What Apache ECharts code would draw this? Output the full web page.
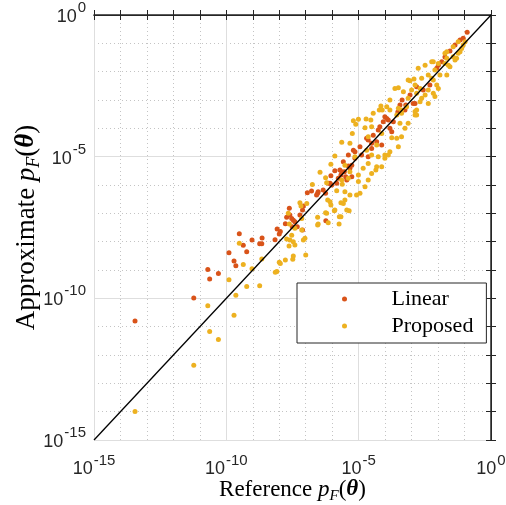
<!DOCTYPE html>
<html>
<head>
<meta charset="utf-8">
<script src="https://cdn.jsdelivr.net/npm/echarts@6/dist/echarts.min.js"></script>
<style>
  html, body { margin: 0; padding: 0; background: #fff; }
  #chart { width: 506px; height: 505px; }
</style>
</head>
<body>
<div id="chart"></div>
<script>
// Failure probabilities as log10 exponents: [reference p_F, approximate p_F]
const linearPoints = [
  [-13.45,-10.80],[-11.23,-9.99],[-10.70,-8.98],[-10.63,-9.32],[-10.30,-9.12],[-9.90,-8.39],
  [-9.71,-8.68],[-9.64,-8.85],[-9.51,-7.72],[-9.36,-8.13],[-9.23,-8.36],[-9.03,-7.94],
  [-8.74,-8.07],[-8.66,-8.07],[-8.65,-7.87],[-8.16,-7.93],[-8.08,-7.55],[-8.00,-7.73],
  [-7.96,-7.64],[-7.77,-7.37],[-7.72,-7.14],[-7.62,-6.82],[-7.53,-7.18],[-7.47,-7.24],
  [-7.41,-7.30],[-7.51,-7.47],[-7.32,-7.47],[-7.22,-7.06],[-7.12,-6.88],[-7.12,-7.59],
  [-7.09,-6.74],[-6.94,-6.27],[-6.78,-6.21],[-6.55,-6.29],[-6.53,-6.24],[-6.25,-6.29],
  [-6.24,-7.26],[-6.15,-5.94],[-6.05,-5.67],[-6.02,-6.00],[-5.90,-5.50],[-5.83,-5.94],
  [-5.77,-5.76],[-5.67,-5.65],[-5.58,-5.18],[-5.54,-5.53],[-5.49,-5.71],[-5.39,-5.33],
  [-5.33,-5.41],[-5.45,-5.82],[-5.20,-4.77],[-5.26,-5.71],[-7.60,-7.06],
  [-2.81,-2.53],[-3.06,-2.82],[-2.87,-3.12],[-3.22,-3.18],[-4.01,-3.59],[-3.88,-3.71],
  [-3.69,-3.77],[-4.07,-3.77],[-3.75,-4.12],[-4.26,-4.06],[-4.64,-4.41],[-4.51,-4.53],
  [-4.95,-4.65],[-5.14,-4.83],[-5.39,-4.94],[-4.89,-4.94],[-4.64,-5.00],[-5.26,-5.30],
  [-5.64,-5.53],[-4.51,-4.71],[-4.13,-4.59],
  [-0.90,-0.61],[-1.05,-0.82],[-1.17,-0.88],[-1.36,-1.06],[-1.55,-1.27],[-1.99,-1.77],
  [-2.05,-1.88],[-2.31,-2.47],[-2.56,-2.65],[-2.94,-3.12],[-3.44,-3.18],[-3.25,-3.35],
  [-1.86,-1.65],[-3.94,-3.65],[-4.20,-3.94],[-3.82,-4.00],[-4.45,-4.24],[-4.70,-4.35],
  [-4.32,-4.47],[-5.14,-5.06],[-5.71,-5.47],[-6.08,-5.94],[-6.34,-6.18],[-6.59,-6.35],
  [-3.52,-3.42],[-3.36,-3.00],[-1.74,-1.48]
];

const proposedPoints = [
  [-13.45,-13.99],[-11.23,-12.36],[-10.70,-10.26],[-10.63,-11.17],[-10.30,-11.45],[-9.90,-9.34],
  [-9.71,-10.60],[-9.64,-9.89],[-9.51,-8.06],[-9.36,-8.81],[-9.23,-9.58],[-9.03,-8.96],
  [-8.74,-9.56],[-8.66,-8.61],[-8.15,-9.08],[-8.09,-9.05],[-8.00,-8.73],[-7.96,-8.77],
  [-7.77,-8.65],[-7.72,-7.91],[-7.63,-8.15],[-7.62,-7.38],
  [-7.53,-7.77],[-7.41,-8.12],[-7.09,-7.94],[-7.03,-7.88],[-7.15,-7.59],[-7.41,-7.53],
  [-7.60,-7.94],[-7.47,-8.00],[-7.00,-8.47],[-7.47,-8.51],[-7.49,-8.62],
  [-6.55,-7.14],[-6.55,-7.41],[-6.25,-6.98],[-5.92,-6.91],[-5.73,-7.12],[-5.67,-7.12],
  [-5.74,-7.38],[-5.36,-6.91],[-6.08,-6.59],[-5.58,-6.65],[-6.21,-7.00],[-6.53,-7.38],
  [-6.15,-7.33],[-7.66,-7.00],[-7.15,-7.18],[-7.22,-6.63],[-7.18,-6.74],[-6.96,-6.65],
  [-6.17,-6.53],[-6.05,-6.71],[-5.90,-6.88],[-5.67,-6.63],[-5.52,-6.53],[-5.45,-6.88],
  [-5.33,-6.35],[-5.52,-6.24],[-5.62,-5.97],[-5.83,-6.20],[-5.64,-4.49],[-5.90,-4.98],
  [-6.05,-5.27],[-6.46,-5.55],[-6.25,-5.74],[-6.75,-5.98],[-6.21,-5.92],
  [-5.20,-3.73],[-5.01,-3.68],[-4.72,-3.67],[-4.51,-3.94],[-4.22,-3.35],[-3.94,-3.24],
  [-3.82,-3.00],[-3.63,-2.59],[-3.13,-2.29],[-2.75,-1.88],[-2.49,-1.77],[-2.18,-1.65],
  [-1.99,-1.71],[-1.74,-1.35],[-1.67,-1.30],[-1.43,-1.12],[-1.24,-0.94],
  [-5.08,-6.35],[-4.95,-6.29],[-4.76,-6.06],[-4.64,-5.82],[-4.51,-5.59],[-4.35,-5.47],
  [-4.13,-5.36],[-4.01,-5.06],[-3.82,-4.83],[-3.50,-4.65],[-3.56,-4.35],[-3.38,-4.30],
  [-3.25,-4.00],[-3.44,-3.82],[-3.13,-3.82],[-2.81,-3.53],[-2.81,-3.35],[-2.62,-2.94],
  [-2.18,-2.76],[-2.05,-2.47],[-2.24,-2.23],[-1.67,-2.12],[-1.55,-1.83],[-1.30,-1.53],
  [-1.17,-1.30],[-1.05,-1.06],[-0.98,-0.94],
  [-2.91,-2.26],[-3.06,-2.32],[-3.31,-2.71],[-4.16,-3.21],[-4.11,-3.35],[-3.82,-3.35],
  [-3.50,-3.29],[-3.38,-3.47],[-3.56,-3.53],[-2.87,-3.53],[-4.45,-3.47],[-5.11,-3.86],
  [-4.54,-3.71],[-4.76,-3.98],[-5.24,-4.18],[-5.33,-4.53],[-4.64,-4.30],[-4.13,-4.18],
  [-3.75,-4.33],[-4.32,-4.59],[-4.70,-4.77],[-4.51,-4.94],[-4.01,-4.94],[-3.88,-4.94],
  [-4.26,-5.00],[-4.64,-5.24],[-4.32,-5.36],[-5.14,-5.00],[-5.52,-5.30],[-5.33,-5.53],
  [-5.01,-5.65],[-4.83,-5.41],[-5.39,-5.76],[-5.01,-5.88],[-5.64,-5.82],
  [-1.11,-1.18],[-1.24,-1.35],[-1.43,-1.47],[-1.36,-1.59],[-1.67,-1.53],[-1.74,-1.71],
  [-1.61,-1.77],[-1.93,-2.12],[-2.24,-1.65],[-2.12,-1.94],[-2.37,-2.12],[-2.62,-2.23],
  [-2.18,-2.29],[-2.87,-2.47],[-2.37,-2.65],[-2.68,-2.59],[-2.49,-2.82],[-3.00,-2.65],
  [-2.81,-2.76],[-1.99,-2.59],[-3.50,-2.57],[-2.12,-2.88],[-2.68,-3.06],[-3.13,-2.94],
  [-2.37,-3.12],[-3.38,-3.35],[-2.87,-3.41],[-3.19,-3.24]
];

// Axis range (decades) and labelled decades
const axisMinExp = -15;
const axisMaxExp = 0;
const labelledExps = [-15, -10, -5, 0];

const seriesNames = ['Linear', 'Proposed'];
const seriesColors = ['#D95319', '#EDB120'];

const axisColor = '#262626';
const tickFont = "'Liberation Sans', Arial, Helvetica, sans-serif";
const serifFont = "'Liberation Serif', 'Times New Roman', serif";

// "10" with a raised exponent
const tickRich = {
  b: { fontFamily: tickFont, fontSize: 18, color: axisColor },
  s: { fontFamily: tickFont, fontSize: 15, color: axisColor, padding: [0, 0, 18, 1] }
};
function decadeLabel(v) {
  const e = Math.round(v);
  return labelledExps.indexOf(e) >= 0 ? '{b|10}{s|' + e + '}' : '';
}

function nameRich(size) {
  const lh = size + 3;
  const sub = Math.round(size * 0.66);
  return {
    r: { fontFamily: serifFont, fontSize: size, color: '#000', lineHeight: lh, verticalAlign: 'top' },
    i: { fontFamily: serifFont, fontSize: size, fontStyle: 'italic', color: '#000', lineHeight: lh, verticalAlign: 'top' },
    f: { fontFamily: serifFont, fontSize: sub, fontStyle: 'italic', color: '#000', lineHeight: sub, verticalAlign: 'bottom', padding: [lh - sub, 0, 0, 0] },
    t: { fontFamily: serifFont, fontSize: size, fontStyle: 'italic', fontWeight: 'bold', color: '#000', lineHeight: lh, verticalAlign: 'top' }
  };
}
function pfName(prefix) {
  return '{r|' + prefix + ' }{i|p}{f|F}{r|(}{t|θ}{r|)}';
}

function frameAxis(position, width) {
  return {
    type: 'value', min: axisMinExp, max: axisMaxExp, interval: 1, position: position,
    axisLine: { show: true, lineStyle: { color: axisColor, width: width } },
    axisTick: { show: true, inside: true, length: 5, lineStyle: { color: axisColor, width: 1 } },
    axisLabel: { show: false },
    splitLine: { show: false }
  };
}
function majorGridAxis(position) {
  return {
    type: 'value', min: axisMinExp, max: axisMaxExp, interval: 5, position: position,
    axisLine: { show: false }, axisTick: { show: false }, axisLabel: { show: false },
    splitLine: { show: true, lineStyle: { color: '#dedede', width: 1, type: 'solid' } }
  };
}

const chart = echarts.init(document.getElementById('chart'), null, { renderer: 'canvas' });

const xMain = frameAxis('bottom', 1.5);
xMain.axisLabel = { show: true, margin: 13, formatter: decadeLabel, rich: tickRich, showMinLabel: true, showMaxLabel: true };
xMain.splitLine = { show: true, lineStyle: { color: '#c4c4c4', width: 1, type: [1, 3] } };
xMain.name = pfName('Reference');
xMain.nameLocation = 'middle';
xMain.nameGap = 38;
xMain.nameMoveOverlap = false;
xMain.nameTextStyle = { rich: nameRich(23) };

const yMain = frameAxis('left', 1.5);
yMain.axisLabel = { show: true, margin: 8, padding: [4, 0, 0, 0], formatter: decadeLabel, rich: tickRich, showMinLabel: true, showMaxLabel: true };
yMain.splitLine = { show: true, lineStyle: { color: '#c4c4c4', width: 1, type: [1, 3] } };
yMain.name = pfName('Approximate');
yMain.nameLocation = 'middle';
yMain.nameGap = 51;
yMain.nameMoveOverlap = false;
yMain.nameTextStyle = { rich: nameRich(27) };

chart.setOption({
  animation: false,
  backgroundColor: '#fff',
  grid: { left: 94, right: 15, top: 15, bottom: 65, containLabel: false, outerBoundsMode: 'none' },
  xAxis: [xMain, frameAxis('top', 1), majorGridAxis('bottom')],
  yAxis: [yMain, frameAxis('right', 1), majorGridAxis('left')],
  legend: {
    orient: 'vertical',
    left: 297, top: 283,
    data: seriesNames,
    icon: 'circle',
    itemWidth: 6, itemHeight: 5, itemGap: 5,
    padding: [5, 13, 6, 45],
    backgroundColor: '#fff',
    borderColor: axisColor, borderWidth: 1,
    formatter: function (name) { return '{g|}{n|' + name + '}'; },
    textStyle: {
      fontFamily: serifFont, fontSize: 22, color: '#000', lineHeight: 22,
      rich: {
        g: { width: 39 },
        n: { fontFamily: serifFont, fontSize: 22, color: '#000', lineHeight: 22 }
      }
    },
    selectedMode: false
  },
  series: [
    {
      name: seriesNames[0], type: 'scatter', data: linearPoints,
      symbol: 'circle', symbolSize: 5, itemStyle: { color: seriesColors[0], opacity: 1 }, z: 3
    },
    {
      name: seriesNames[1], type: 'scatter', data: proposedPoints,
      symbol: 'circle', symbolSize: 5, itemStyle: { color: seriesColors[1], opacity: 1 }, z: 4
    },
    {
      // identity line: approximate equals reference
      name: 'identity', type: 'line', data: [[axisMinExp, axisMinExp], [axisMaxExp, axisMaxExp]],
      symbol: 'none', lineStyle: { color: '#000', width: 1.3 }, z: 5, silent: true
    }
  ]
});
</script>
</body>
</html>
